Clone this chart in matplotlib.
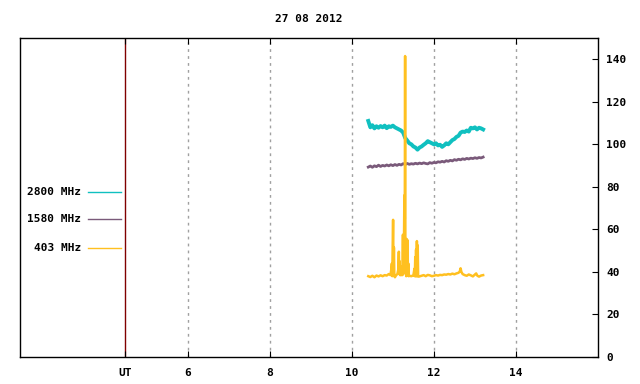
import numpy as np
import matplotlib
matplotlib.use("Agg")
import matplotlib.pyplot as plt

plt.rcParams['font.family'] = ['DejaVu Sans Mono']
plt.rcParams['font.weight'] = 'bold'
plt.rcParams['font.size'] = 8

title = "27 08 2012"
series_names = ["2800 MHz", "1580 MHz", "403 MHz"]
series_colors = ["#10c0c0", "#7a5a7a", "#ffc020"]

# 2800 MHz (0.05 h sampling from 10.40 to 13.20)
t_2800_start, t_2800_end = 10.40, 13.20
v_2800 = [111, 108, 109, 107.5, 108.5, 107.8, 108.6, 108, 108.8, 107.6,
          108.5, 108.2, 108.8, 108, 107.5, 107, 106.5, 105.5, 103, 101.8,
          100.5, 100, 99, 98.5, 97.5, 98.5, 99, 99.8, 100.5, 101.5,
          101, 100.5, 100, 100.5, 99.5, 99.8, 98.8, 99.5, 100.5, 100,
          101, 102, 102.5, 103.5, 104, 105.5, 106, 105.8, 106.5, 106,
          107.8, 107.5, 108, 107, 107.8, 107.5, 107]

# 1580 MHz (same sampling)
v_1580 = [89.3, 89.8, 89.2, 89.9, 89.5, 90.2, 89.6, 90.1, 89.8, 90.3,
          89.9, 90.4, 90.0, 90.5, 90.1, 90.6, 90.3, 90.9, 90.5, 91.0,
          90.6, 90.9, 90.7, 91.1, 90.8, 91.2, 90.9, 91.3, 91.0, 90.8,
          91.4, 91.1, 91.5, 91.3, 91.8, 91.6, 92.0, 91.7, 92.3, 92.0,
          92.5, 92.2, 92.8, 92.5, 93.0, 92.7, 93.2, 92.9, 93.4, 93.1,
          93.5, 93.3, 93.7, 93.4, 93.8, 93.6, 94.0]

# 403 MHz
t_403 = [10.40, 10.45, 10.50, 10.55, 10.60, 10.65, 10.70, 10.75, 10.80, 10.85,
         10.90, 10.94, 10.96, 10.975, 10.985, 10.995, 11.005, 11.015, 11.025, 11.035,
         11.05, 11.08, 11.11, 11.13, 11.145, 11.155, 11.165, 11.175, 11.19, 11.20,
         11.215, 11.23, 11.245, 11.255, 11.265, 11.28, 11.29, 11.298, 11.305, 11.315,
         11.325, 11.335, 11.345, 11.355, 11.365, 11.375, 11.385, 11.40, 11.45, 11.50,
         11.525, 11.535, 11.545, 11.555, 11.565, 11.575, 11.585, 11.595, 11.605, 11.615,
         11.63, 11.70, 11.75, 11.80, 11.85, 11.90, 11.95, 12.00, 12.05, 12.10,
         12.15, 12.20, 12.25, 12.30, 12.35, 12.40, 12.45, 12.50, 12.55, 12.60,
         12.63, 12.65, 12.67, 12.70, 12.75, 12.80, 12.85, 12.90, 12.95, 13.00,
         13.03, 13.06, 13.10, 13.15, 13.20]
v_403 = [38.0, 37.6, 38.2, 37.5, 38.3, 37.9, 38.4, 38.0, 38.5, 38.3,
         39.0, 38.5, 41, 44, 38, 52, 64.5, 40, 51.5, 38,
         37.5, 38.5, 39, 41, 49.5, 39, 45, 38.5, 42, 38.5,
         42.5, 38.5, 57.5, 39, 42, 76, 65, 141.5, 40, 42,
         38, 55.5, 39, 55, 38.5, 44, 38, 38.2, 38, 38.4,
         41.5, 38, 47, 38, 50.5, 38, 54.5, 38, 52.5, 38,
         37.8, 38.2, 38.5, 38, 38.6, 38.4, 38, 38.2, 38.5, 38.3,
         38.6, 38.5, 38.8, 38.7, 39.0, 38.8, 39.2, 38.9, 39.3, 39.6,
         40.2, 41.7, 40, 39, 38.5, 38.2, 38.8, 38.4, 37.9, 38.8,
         39.3, 38.2, 37.8, 38.3, 38.5]

ut_pos = 4.47
xtick_vals = [6, 8, 10, 12, 14]
ytick_vals = [0, 20, 40, 60, 80, 100, 120, 140]
xlim = (1.91, 16.0)
ylim = (0, 150)

fig = plt.figure(figsize=(6.4, 3.84), dpi=100)
ax = fig.add_axes([20/640, 27/384, 578/640, 319/384])

t_2800 = np.linspace(t_2800_start, t_2800_end, len(v_2800))
t_1580 = np.linspace(t_2800_start, t_2800_end, len(v_1580))

ax.plot(t_2800, v_2800, color=series_colors[0], lw=2.8)
ax.plot(t_1580, v_1580, color=series_colors[1], lw=2.0)
ax.plot(t_403, v_403, color=series_colors[2], lw=1.8)

ax.set_xlim(*xlim)
ax.set_ylim(*ylim)

for xv in xtick_vals:
    ax.axvline(xv, color="#a0a0a0", lw=1.0, linestyle=(0, (2, 3)), zorder=0)
ax.axvline(ut_pos, color="#800000", lw=1.0, zorder=0)

ax.set_xticks([ut_pos] + xtick_vals)
ax.set_xticklabels(["UT"] + [str(v) for v in xtick_vals])
ax.tick_params(axis='x', direction='in', length=4, pad=8, top=True, bottom=True)
ax.yaxis.tick_right()
ax.set_yticks(ytick_vals)
ax.tick_params(axis='y', direction='in', length=4, pad=6, right=True, left=False)
for lbl in ax.get_yticklabels():
    lbl.set_horizontalalignment('left')

for s in ax.spines.values():
    s.set_linewidth(1.0)
    s.set_color("black")

# legend (gnuplot-style, labels right-justified, line sample to the right)
leg_y = [192, 219, 248]
for name, col, yp in zip(series_names, series_colors, leg_y):
    yf = (357 - yp) / 319
    ax.text((81 - 20) / 578, yf, name, transform=ax.transAxes,
            ha='right', va='center')
    ax.plot([(88 - 20) / 578, (121 - 20) / 578], [yf, yf], color=col, lw=1.0,
            transform=ax.transAxes, clip_on=False)

fig.text(309/640, 1 - 19/384, title, ha='center', va='center')

fig.savefig("out.png", dpi=100)
